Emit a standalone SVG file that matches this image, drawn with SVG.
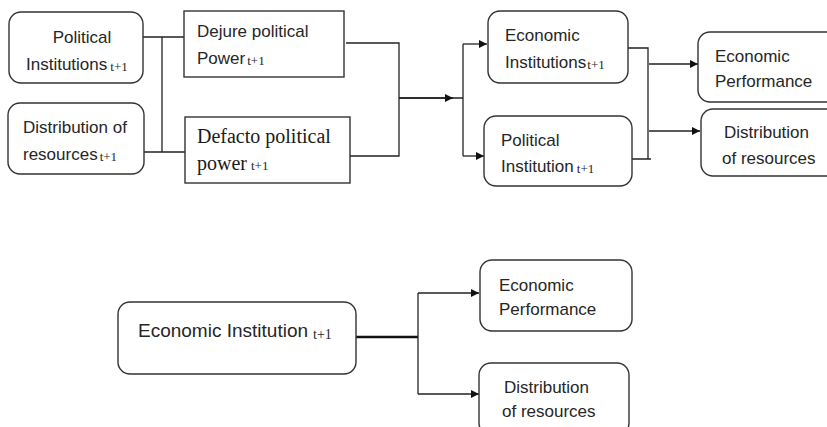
<svg xmlns="http://www.w3.org/2000/svg" width="827" height="427" viewBox="0 0 827 427">
<defs>
<style>
.box{fill:#fff;stroke:#333;stroke-width:1.4}
.t{font-family:"Liberation Sans",Arial,sans-serif;font-size:17px;fill:#262626}
.s{font-family:"Liberation Serif","Times New Roman",serif;font-size:13px;fill:#262626}
.tr{font-family:"Liberation Serif","Times New Roman",serif;font-size:20px;fill:#1a1a1a}
.c{fill:none;stroke:#222;stroke-width:1.3}
.ah{fill:#111}
</style>
<marker id="arr" viewBox="0 0 10 10" refX="10" refY="5" markerWidth="9" markerHeight="8" markerUnits="userSpaceOnUse" orient="auto">
<path d="M0,0 L10,5 L0,10 z" class="ah"/>
</marker>
</defs>
<rect width="827" height="427" fill="#fff"/>

<g id="connectors">
<path class="c" d="M143,37 H184 M162,37 V152 M144,152 H185"/>
<path class="c" d="M346,43 H399 V156 H350 M399,98 H463"/>
<path class="c" d="M399,98 H453" marker-end="url(#arr)"/>
<path class="c" d="M463,44 V156"/>
<path class="c" d="M463,44 H487" marker-end="url(#arr)"/>
<path class="c" d="M463,156 H484" marker-end="url(#arr)"/>
<path class="c" d="M628,48 H648 V159 H632 M648,159 H651"/>
<path class="c" d="M649,64 H698" marker-end="url(#arr)"/>
<path class="c" d="M649,131 H700" marker-end="url(#arr)"/>
<path fill="none" stroke="#111" stroke-width="2.5" d="M356,337 H418"/>
<path class="c" d="M418,293 V394"/>
<path class="c" d="M418,293 H479" marker-end="url(#arr)"/>
<path class="c" d="M418,394 H479" marker-end="url(#arr)"/>
</g>

<g id="political-institutions">
<rect class="box" x="9" y="12" width="134" height="71" rx="12"/>
<text class="t" x="82" y="43" text-anchor="middle">Political</text>
<text class="t" x="26" y="70">Institutions<tspan class="s" dx="3" dy="1">t+1</tspan></text>
</g>

<g id="distribution-resources-t1">
<rect class="box" x="8" y="103" width="136" height="71" rx="12"/>
<text class="t" x="23" y="133">Distribution of</text>
<text class="t" x="23" y="160">resources<tspan class="s" dx="2" dy="1">t+1</tspan></text>
</g>

<g id="dejure">
<rect class="box" x="184" y="11" width="160" height="66"/>
<text class="t" x="197" y="37">Dejure political</text>
<text class="t" x="197" y="64">Power<tspan class="s" dx="2" dy="1">t+1</tspan></text>
</g>

<g id="defacto">
<rect class="box" x="185" y="117" width="165" height="66"/>
<text class="tr" x="197" y="143">Defacto political</text>
<text class="tr" x="197" y="170">power<tspan class="s" dx="4" dy="0">t+1</tspan></text>
</g>

<g id="economic-institutions">
<rect class="box" x="488" y="11" width="140" height="72" rx="12"/>
<text class="t" x="505" y="41">Economic</text>
<text class="t" x="505" y="68">Institutions<tspan class="s" dx="1" dy="1">t+1</tspan></text>
</g>

<g id="political-institution">
<rect class="box" x="484" y="116" width="148" height="70" rx="12"/>
<text class="t" x="501" y="146">Political</text>
<text class="t" x="501" y="172">Institution<tspan class="s" dx="3" dy="1">t+1</tspan></text>
</g>

<g id="economic-performance-top">
<rect class="box" x="698" y="32" width="140" height="70" rx="12"/>
<text class="t" x="715" y="62">Economic</text>
<text class="t" x="715" y="87">Performance</text>
</g>

<g id="distribution-resources-top">
<rect class="box" x="701" y="109" width="140" height="67" rx="12"/>
<text class="t" x="724" y="138">Distribution</text>
<text class="t" x="722" y="164">of resources</text>
</g>

<g id="economic-institution-bottom">
<rect class="box" x="118" y="302" width="238" height="72" rx="12"/>
<text class="t" x="138" y="337" style="font-size:19px">Economic Institution<tspan class="s" dx="5" dy="2" style="font-size:14px">t+1</tspan></text>
</g>

<g id="economic-performance-bottom">
<rect class="box" x="480" y="260" width="152" height="71" rx="12"/>
<text class="t" x="499" y="291">Economic</text>
<text class="t" x="499" y="315">Performance</text>
</g>

<g id="distribution-resources-bottom">
<rect class="box" x="479" y="363" width="150" height="72" rx="12"/>
<text class="t" x="504" y="393">Distribution</text>
<text class="t" x="502" y="417">of resources</text>
</g>
</svg>
